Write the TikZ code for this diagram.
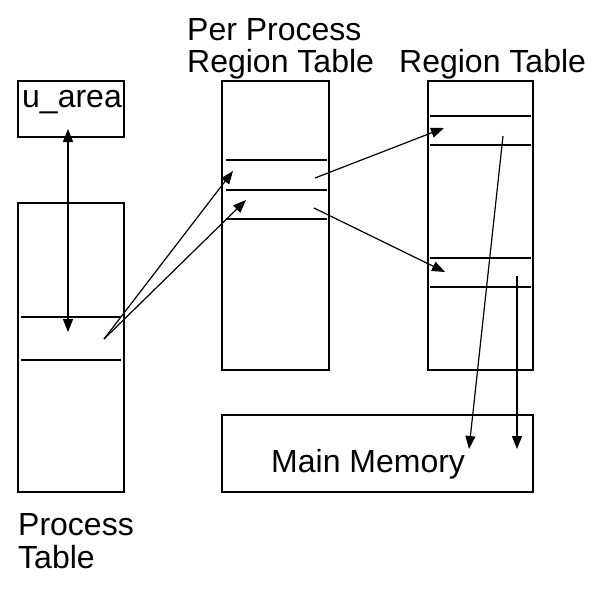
\documentclass[tikz,border=0pt]{standalone}
\usepackage{fontspec}
\setmainfont{Liberation Sans}
\usetikzlibrary{arrows.meta}
\begin{document}
\begin{tikzpicture}[x=1pt,y=-1pt,
  box/.style={draw,line width=1.3pt,inner sep=0pt},
  row/.style={line width=1.3pt},
  lbl/.style={inner sep=0pt,anchor=base west,font=\fontsize{32}{33}\selectfont},
  arr/.style={line width=1.2pt,-{Triangle[length=13pt,width=10pt]}},
  darr/.style={line width=1.2pt,{Triangle[length=13pt,width=10pt]}-{Triangle[length=13pt,width=10pt]}}]
\useasboundingbox (0,0) rectangle (595,589);
% boxes
\node[box,minimum width=106pt,minimum height=56pt] (uarea) at (71,109) {};
\node[box,minimum width=106pt,minimum height=289pt] (proc) at (71,347.5) {};
\node[box,minimum width=107pt,minimum height=289pt] (pprt) at (275.5,225.5) {};
\node[box,minimum width=105pt,minimum height=289pt] (rt) at (480.5,225.5) {};
\node[box,minimum width=311pt,minimum height=77pt] (mem) at (377.5,453.5) {};
% rows
\draw[row] (21,317) -- (121,317) (21,360) -- (121,360);
\draw[row] (226,160) -- (327,160) (226,190) -- (327,190) (226,219) -- (327,219);
\draw[row] (430,116) -- (531,116) (430,145) -- (531,145) (430,258) -- (531,258) (430,287) -- (531,287);
% labels
\node[lbl] (tua) at (22,107) {u\_area};
\node[lbl] (tpp1) at (187,40) {Per Process};
\node[lbl] (tpp2) at (187,72) {Region Table};
\node[lbl] (trt) at (399,72) {Region Table};
\node[lbl] (tpt1) at (18,535) {Process};
\node[lbl] (tpt2) at (18,568) {Table};
\node[lbl] (tmm) at (271,472) {Main Memory};
% connector ends
\coordinate (ua) at (68,129);
\coordinate (pe) at (68,332);
\coordinate (ps) at (104,339);
\coordinate (pp1) at (233,171);
\coordinate (pp2) at (246,200);
\coordinate (ps1) at (315,178);
\coordinate (ps2) at (314,208);
\coordinate (r1) at (444,128);
\coordinate (r2) at (445,272);
\coordinate (rs1) at (503,136);
\coordinate (rs2) at (517,276);
\coordinate (m1) at (469,449);
\coordinate (m2) at (517,449);
% connectors
\draw[darr] (ua) -- (pe);
\draw[arr] (ps) -- (pp1);
\draw[arr] (ps) -- (pp2);
\draw[arr] (ps1) -- (r1);
\draw[arr] (ps2) -- (r2);
\draw[arr] (rs1) -- (m1);
\draw[arr] (rs2) -- (m2);
\end{tikzpicture}
\end{document}
